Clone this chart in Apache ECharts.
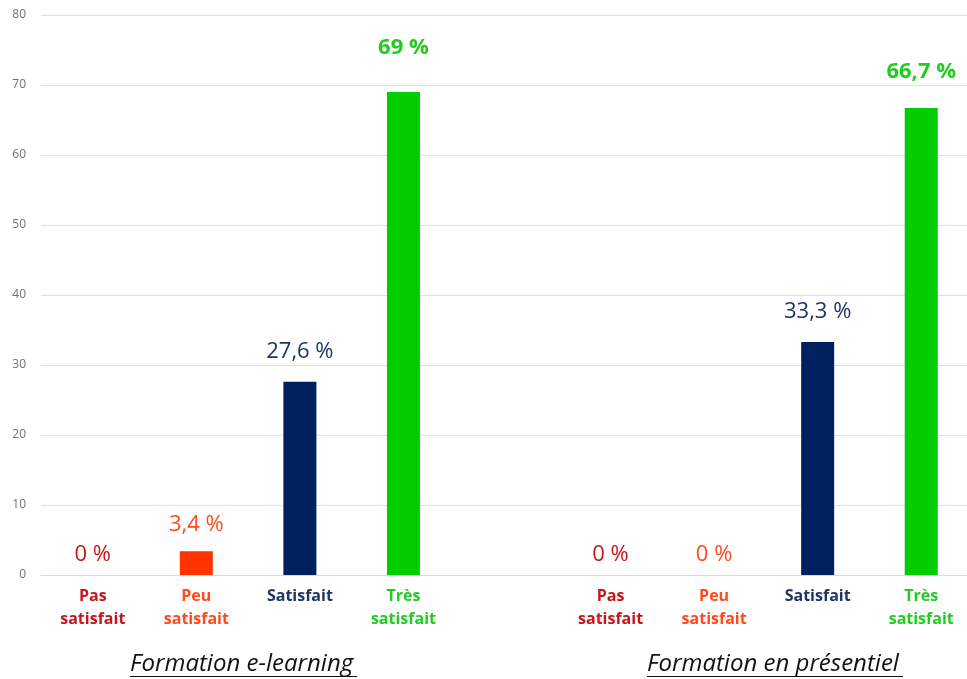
<!DOCTYPE html>
<html lang="fr">
<head>
    <meta charset="UTF-8">
    <title>Satisfaction formation</title>
    <style type="text/css">
        html, body { margin: 0; padding: 0; background: #ffffff; overflow: hidden; }
        /* un peu plus large que la fenêtre : la dernière catégorie déborde à droite */
        #main { width: 973px; height: 679px; }
    </style>
</head>
<body>
<div id="main"></div>
<script type="text/javascript" src="https://cdn.jsdelivr.net/npm/echarts@6/dist/echarts.min.js"></script>
<script type="text/javascript">
    // catégories (la 5e est un vide entre les deux groupes)
    var categories = ['Pas\nsatisfait', 'Peu\nsatisfait', 'Satisfait', 'Très\nsatisfait', '',
        'Pas\nsatisfait', 'Peu\nsatisfait', 'Satisfait', 'Très\nsatisfait'];
    var values = [0, 3.4, 27.6, 69, null, 0, 0, 33.3, 66.7];
    var groupTitles = ['Formation e-learning', 'Formation en présentiel'];
    var yTicks = [0, 10, 20, 30, 40, 50, 60, 70, 80];

    // couleurs par niveau
    var colors = ['#C00000', '#FF3300', '#002060', '#00CC00', '#ffffff',
        '#C00000', '#FF3300', '#002060', '#00CC00'];
    var labelColors = ['#C4161C', '#FF4A1C', '#1F3564', '#22CC22', '#ffffff',
        '#C4161C', '#FF4A1C', '#1F3564', '#22CC22'];
    var labelBold = [false, false, false, true, false, false, false, false, true];
    var labelGap = [9, 15, 19, 33, 0, 9, 9, 19, 25];

    var font = '"Open Sans", sans-serif';

    var xData = categories.map(function (c, i) {
        return {
            value: c,
            textStyle: { color: labelColors[i] }
        };
    });

    var barData = values.map(function (v, i) {
        return {
            value: v,
            itemStyle: { color: colors[i] },
            label: {
                color: labelColors[i],
                fontWeight: labelBold[i] ? 'bold' : 'normal',
                distance: labelGap[i]
            }
        };
    });

    var myChart = echarts.init(document.getElementById('main'));
    var option = {
        animation: false,
        grid: { left: 41, top: 15, right: 0, height: 560 },
        xAxis: {
            type: 'category',
            data: xData,
            axisLine: { lineStyle: { color: '#d9d9d9' } },
            axisTick: { length: 5, lineStyle: { color: '#d9d9d9' } },
            axisLabel: {
                interval: 0,
                margin: 10,
                fontFamily: font,
                fontSize: 16,
                fontWeight: 'bold',
                lineHeight: 23
            }
        },
        yAxis: {
            type: 'value',
            min: yTicks[0],
            max: yTicks[yTicks.length - 1],
            interval: 10,
            axisLine: { show: false },
            axisTick: { show: false },
            splitLine: { lineStyle: { color: '#e0e0e0' } },
            axisLabel: { color: '#707070', fontSize: 12, margin: 15, fontFamily: font }
        },
        series: [{
            type: 'bar',
            barWidth: 33,
            data: barData,
            label: {
                show: true,
                position: 'top',
                fontFamily: font,
                fontSize: 22,
                formatter: function (p) {
                    return String(p.value).replace('.', ',') + ' %';
                }
            }
        }],
        graphic: [
            {
                type: 'text', left: 130, top: 652,
                style: { text: groupTitles[0], font: 'italic 24px ' + font, fill: '#111111' }
            },
            {
                type: 'line', shape: { x1: 130, y1: 676.5, x2: 357, y2: 676.5 },
                style: { stroke: '#111111', lineWidth: 1 }
            },
            {
                type: 'text', left: 647, top: 652,
                style: { text: groupTitles[1], font: 'italic 24px ' + font, fill: '#111111' }
            },
            {
                type: 'line', shape: { x1: 647, y1: 676.5, x2: 903, y2: 676.5 },
                style: { stroke: '#111111', lineWidth: 1 }
            }
        ]
    };
    myChart.setOption(option);
</script>
</body>
</html>
